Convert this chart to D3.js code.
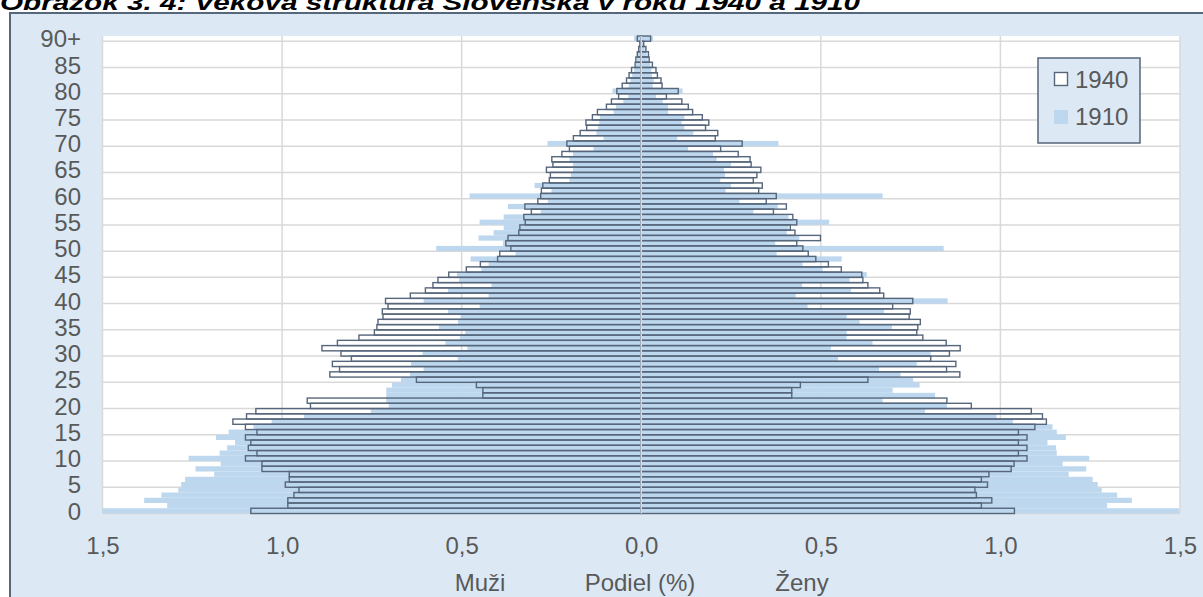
<!DOCTYPE html>
<html>
<head>
    <title>Veková štruktúra Slovenska 1940 a 1910</title>
    <script src="https://d3js.org/d3.v7.min.js"></script>
    <style>
        body { margin: 0; background: #ffffff; }
        svg { display: block; font-family: Arial, "Liberation Sans", sans-serif; }
    </style>
</head>
<body>
<svg id="chart" width="1203" height="597"></svg>
<script>
    // ages 0 .. 90+ (index = age)
    var ages = d3.range(0, 91);
    var ageTicks = [0, 5, 10, 15, 20, 25, 30, 35, 40, 45, 50, 55, 60, 65, 70, 75, 80, 85, 90];
    var xTicks = [-1.5, -1, -0.5, 0, 0.5, 1, 1.5];

    // share of population (%), men 1940
    var men1940 = [1.087, 0.984, 0.984, 0.967, 0.953, 0.991, 0.98, 0.98, 1.056, 1.056,
        1.102, 1.07, 1.094, 1.087, 1.102, 1.07, 1.102, 1.137, 1.099, 1.073,
        0.921, 0.93, 0.441, 0.441, 0.459, 0.626, 0.867, 0.84, 0.86, 0.807,
        0.836, 0.889, 0.846, 0.786, 0.743, 0.736, 0.733, 0.719, 0.721, 0.705,
        0.712, 0.643, 0.601, 0.58, 0.566, 0.536, 0.487, 0.448, 0.4, 0.394,
        0.363, 0.377, 0.371, 0.341, 0.338, 0.323, 0.327, 0.306, 0.324, 0.288,
        0.28, 0.278, 0.274, 0.256, 0.253, 0.264, 0.246, 0.249, 0.221, 0.2,
        0.207, 0.189, 0.17, 0.152, 0.154, 0.136, 0.122, 0.097, 0.083, 0.063,
        0.068, 0.053, 0.041, 0.034, 0.027, 0.017, 0.015, 0.011, 0.007, 0.004,
        0.011];

    // women 1940
    var women1940 = [1.039, 0.947, 0.976, 0.933, 0.929, 0.964, 0.947, 0.968, 1.03, 1.038,
        1.074, 1.05, 1.074, 1.05, 1.074, 1.05, 1.096, 1.128, 1.117, 1.086,
        0.919, 0.851, 0.419, 0.419, 0.443, 0.631, 0.887, 0.85, 0.876, 0.806,
        0.858, 0.888, 0.849, 0.784, 0.767, 0.77, 0.777, 0.746, 0.749, 0.7,
        0.756, 0.675, 0.664, 0.631, 0.617, 0.614, 0.557, 0.521, 0.486, 0.465,
        0.45, 0.433, 0.499, 0.428, 0.415, 0.433, 0.422, 0.368, 0.404, 0.348,
        0.376, 0.327, 0.337, 0.312, 0.322, 0.333, 0.306, 0.303, 0.27, 0.221,
        0.281, 0.206, 0.213, 0.179, 0.188, 0.17, 0.143, 0.131, 0.113, 0.07,
        0.103, 0.058, 0.055, 0.045, 0.041, 0.031, 0.022, 0.02, 0.013, 0.007,
        0.026];

    // men 1910
    var men1910 = [1.5, 1.32, 1.384, 1.336, 1.289, 1.281, 1.27, 1.189, 1.241, 1.171,
        1.26, 1.174, 1.153, 1.131, 1.184, 1.149, 1.08, 1.029, 0.939, 0.753,
        0.703, 0.71, 0.71, 0.71, 0.694, 0.669, 0.644, 0.606, 0.641, 0.511,
        0.609, 0.484, 0.545, 0.505, 0.49, 0.563, 0.51, 0.503, 0.538, 0.45,
        0.606, 0.425, 0.538, 0.417, 0.507, 0.513, 0.445, 0.425, 0.475, 0.35,
        0.571, 0.385, 0.453, 0.411, 0.383, 0.45, 0.383, 0.28, 0.371, 0.26,
        0.478, 0.25, 0.297, 0.2, 0.196, 0.19, 0.19, 0.2, 0.19, 0.133,
        0.261, 0.105, 0.125, 0.12, 0.117, 0.115, 0.077, 0.07, 0.05, 0.036,
        0.08, 0.035, 0.03, 0.025, 0.02, 0.015, 0.012, 0.009, 0.006, 0.004,
        0.02];

    // women 1910
    var women1910 = [1.498, 1.297, 1.366, 1.325, 1.282, 1.271, 1.257, 1.19, 1.239, 1.173,
        1.247, 1.157, 1.155, 1.131, 1.182, 1.157, 1.145, 1.035, 0.989, 0.79,
        0.851, 0.672, 0.818, 0.7, 0.775, 0.757, 0.722, 0.662, 0.767, 0.548,
        0.806, 0.528, 0.644, 0.572, 0.572, 0.698, 0.608, 0.572, 0.676, 0.463,
        0.853, 0.43, 0.584, 0.448, 0.58, 0.628, 0.505, 0.449, 0.558, 0.377,
        0.842, 0.373, 0.44, 0.405, 0.41, 0.523, 0.41, 0.312, 0.38, 0.273,
        0.672, 0.235, 0.25, 0.22, 0.233, 0.23, 0.25, 0.21, 0.2, 0.13,
        0.382, 0.1, 0.145, 0.12, 0.112, 0.12, 0.075, 0.075, 0.06, 0.041,
        0.115, 0.032, 0.035, 0.03, 0.028, 0.025, 0.018, 0.015, 0.01, 0.006,
        0.033];

    var svg = d3.select('#chart');
    var bg = '#dce9f5';
    var textColor = '#595959';
    var outline = '#56667b';

    // title (cut at the top of the picture, as in the source)
    svg.append('text')
        .attr('x', 0).attr('y', 10)
        .attr('textLength', 860)
        .attr('lengthAdjust', 'spacingAndGlyphs')
        .style('font-size', '22px').style('font-weight', 'bold').style('font-style', 'italic')
        .attr('fill', '#000')
        .text('Obrázok 3. 4: Veková štruktúra Slovenska v roku 1940 a 1910');

    // chart area
    svg.append('rect')
        .attr('x', 10).attr('y', 13).attr('width', 1210).attr('height', 600)
        .attr('fill', bg).attr('stroke', outline).attr('stroke-width', 2);

    var x = d3.scaleLinear().domain([-1.5, 1.5]).range([102.5, 1180]);
    var y = d3.scaleBand().domain(ages.slice().reverse()).range([36, 513.5]).padding(0);

    // plot area
    svg.append('rect')
        .attr('x', x(-1.5)).attr('y', 36)
        .attr('width', x(1.5) - x(-1.5)).attr('height', 513.5 - 36)
        .attr('fill', '#fff');

    // gridlines
    svg.append('g').selectAll('line').data(xTicks.filter(function(d) { return d !== 0; }))
        .join('line')
        .attr('x1', function(d) { return x(d); }).attr('x2', function(d) { return x(d); })
        .attr('y1', 36).attr('y2', 513.5)
        .attr('stroke', '#d9d9d9').attr('stroke-width', 1.5);

    svg.append('g').selectAll('line').data(ageTicks)
        .join('line')
        .attr('x1', x(-1.5)).attr('x2', x(1.5))
        .attr('y1', function(d) { return y(d) + y.bandwidth(); })
        .attr('y2', function(d) { return y(d) + y.bandwidth(); })
        .attr('stroke', '#d9d9d9').attr('stroke-width', 1.5);

    // 1910 - filled bars
    var g1910 = svg.append('g');
    g1910.selectAll('rect.m').data(ages).join('rect').attr('class', 'm')
        .attr('x', function(d) { return x(-men1910[d]); })
        .attr('width', function(d) { return x(0) - x(-men1910[d]); })
        .attr('y', function(d) { return y(d); })
        .attr('height', y.bandwidth())
        .attr('fill', '#bdd7ee');
    g1910.selectAll('rect.f').data(ages).join('rect').attr('class', 'f')
        .attr('x', x(0))
        .attr('width', function(d) { return x(women1910[d]) - x(0); })
        .attr('y', function(d) { return y(d); })
        .attr('height', y.bandwidth())
        .attr('fill', '#bdd7ee');

    // 1940 - outlined bars
    var g1940 = svg.append('g').attr('fill', 'none').attr('stroke', outline).attr('stroke-width', 1.4);
    g1940.selectAll('rect.m').data(ages).join('rect').attr('class', 'm')
        .attr('x', function(d) { return x(-men1940[d]); })
        .attr('width', function(d) { return x(0) - x(-men1940[d]); })
        .attr('y', function(d) { return y(d); })
        .attr('height', y.bandwidth());
    g1940.selectAll('rect.f').data(ages).join('rect').attr('class', 'f')
        .attr('x', x(0))
        .attr('width', function(d) { return x(women1940[d]) - x(0); })
        .attr('y', function(d) { return y(d); })
        .attr('height', y.bandwidth());

    // zero line on top
    svg.append('line')
        .attr('x1', x(0)).attr('x2', x(0)).attr('y1', 36).attr('y2', 513.5)
        .attr('stroke', '#d9d9d9').attr('stroke-width', 1.5);

    // axes
    var fmt = function(d) { return d3.format('.1f')(Math.abs(d)).replace('.', ','); };
    var xAxis = svg.append('g')
        .attr('transform', 'translate(0,' + 537 + ')')
        .call(d3.axisBottom(x).tickValues(xTicks).tickFormat(fmt).tickSize(0).tickPadding(0));
    xAxis.select('.domain').remove();
    xAxis.selectAll('text').attr('dy', '0.71em').attr('fill', textColor)
        .style('font-size', '24px').style('font-family', 'Arial, "Liberation Sans", sans-serif');

    var yAxis = svg.append('g')
        .attr('transform', 'translate(81,1)')
        .call(d3.axisLeft(y).tickValues(ageTicks)
            .tickFormat(function(d) { return d === 90 ? '90+' : d; })
            .tickSize(0).tickPadding(0));
    yAxis.select('.domain').remove();
    yAxis.selectAll('text').attr('fill', textColor)
        .style('font-size', '24px').style('font-family', 'Arial, "Liberation Sans", sans-serif');

    // axis title
    var titles = [{t: 'Muži', x: 480}, {t: 'Podiel (%)', x: 640}, {t: 'Ženy', x: 802}];
    svg.append('g').selectAll('text').data(titles).join('text')
        .attr('x', function(d) { return d.x; }).attr('y', 591)
        .attr('text-anchor', 'middle')
        .attr('fill', textColor).style('font-size', '24px')
        .text(function(d) { return d.t; });

    // legend
    var lg = svg.append('g');
    lg.append('rect').attr('x', 1038).attr('y', 58).attr('width', 102).attr('height', 85)
        .attr('fill', bg).attr('stroke', outline).attr('stroke-width', 1.5);
    lg.append('rect').attr('x', 1054.5).attr('y', 72.5).attr('width', 13).attr('height', 13)
        .attr('fill', '#fff').attr('stroke', outline).attr('stroke-width', 1.4);
    lg.append('rect').attr('x', 1054).attr('y', 110).attr('width', 14).attr('height', 14)
        .attr('fill', '#bdd7ee');
    lg.append('text').attr('x', 1075).attr('y', 88).attr('fill', textColor)
        .style('font-size', '24px').text('1940');
    lg.append('text').attr('x', 1075).attr('y', 125).attr('fill', textColor)
        .style('font-size', '24px').text('1910');
</script>
</body>
</html>
